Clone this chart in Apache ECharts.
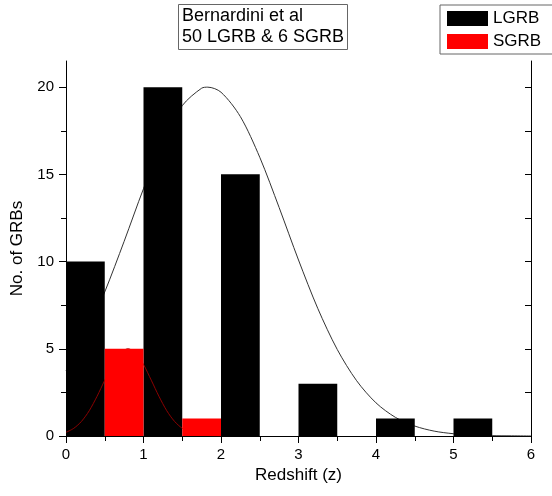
<!DOCTYPE html>
<html><head><meta charset="utf-8">
<script src="https://cdn.jsdelivr.net/npm/echarts@6/dist/echarts.min.js"></script>
<style>html,body{margin:0;padding:0;background:#fff}#c{width:552px;height:496px}</style>
</head><body><div id="c"></div>
<script>
// ---- data ----
const binWidth = 0.5;
const lgrbStart = [0, 1, 2, 3, 4, 5];
const lgrbCount = [10, 20, 15, 3, 1, 1];
const sgrbStart = [0.5, 1.5];
const sgrbCount = [5, 1];
const lgrbFitX = [0, 0.25, 0.5, 0.75, 1.0, 1.25, 1.5, 1.75, 1.83, 2.0, 2.25, 2.5, 2.75, 3.0, 3.25, 3.5, 3.75, 4.0, 4.25, 4.5, 4.75, 5.0, 5.25, 5.5, 5.75, 6.0];
const lgrbFitY = [3.75, 5.74, 8.26, 11.16, 14.18, 16.9, 18.94, 19.94, 20.0, 19.71, 18.31, 15.98, 13.10, 10.09, 7.30, 4.96, 3.17, 1.90, 1.07, 0.57, 0.28, 0.13, 0.06, 0.02, 0.01, 0.0];
const sgrbFitX = [0, 0.1, 0.2, 0.3, 0.4, 0.5, 0.6, 0.7, 0.8, 0.9, 1.0, 1.1, 1.2, 1.3, 1.4, 1.5, 1.6, 1.7, 1.8, 1.9, 2.0];
const sgrbFitY = [0.21, 0.44, 0.84, 1.45, 2.27, 3.20, 4.10, 4.76, 5.0, 4.76, 4.10, 3.20, 2.27, 1.45, 0.84, 0.44, 0.21, 0.09, 0.04, 0.01, 0.0];
const xTicks = [0, 1, 2, 3, 4, 5, 6];
const yLabelTicks = [0, 5, 10, 15, 20];
const yMinorTicks = [2.5, 7.5, 12.5, 17.5];
const titleLines = ['Bernardini et al', '50 LGRB & 6 SGRB'];
// --------------------------------------

const FONT = '"Liberation Sans", Arial, sans-serif';
const chart = echarts.init(document.getElementById('c'), null, {renderer: 'canvas'});

function histSeries(name, starts, counts, color, z) {
  return {
    type: 'custom', name: name, xAxisIndex: 0, yAxisIndex: 0, z: z,
    itemStyle: {color: color},
    encode: {x: 0, y: 1},
    data: starts.map((s, i) => [s, counts[i]]),
    renderItem: function (params, api) {
      const x0 = api.value(0), v = api.value(1);
      const p0 = api.coord([x0, v]);
      const p1 = api.coord([x0 + binWidth, 0]);
      return {type: 'rect', shape: {x: p0[0], y: p0[1], width: p1[0] - p0[0], height: p1[1] - p0[1]},
        style: {fill: color}};
    }
  };
}

const axisLine = {show: true, lineStyle: {color: '#000', width: 1}};
const option = {
  animation: false,
  backgroundColor: '#fff',
  textStyle: {fontFamily: FONT},
  title: {
    text: titleLines.join('\n'), left: 178, top: 4,
    borderColor: '#666', borderWidth: 1, padding: [2, 4, 2, 4],
    textStyle: {fontFamily: FONT, fontSize: 18, fontWeight: 'normal', color: '#000', lineHeight: 21}
  },
  legend: {
    orient: 'vertical', left: 440, top: 5,
    data: ['LGRB', 'SGRB'], icon: 'rect', itemWidth: 41, itemHeight: 15, itemGap: 6,
    borderColor: '#666', borderWidth: 1, padding: [5, 20, 4, 7],
    textStyle: {fontFamily: FONT, fontSize: 17, color: '#000'}
  },
  grid: {left: 66, right: 21, top: 61, bottom: 60},
  xAxis: [
    {type: 'value', min: 0, max: 6, interval: 1, position: 'bottom',
     name: 'Redshift (z)', nameLocation: 'middle', nameGap: 25,
     nameTextStyle: {fontFamily: FONT, fontSize: 17, color: '#000'},
     axisLine: axisLine, splitLine: {show: false},
     axisTick: {show: true, inside: false, length: 7, lineStyle: {color: '#000'}},
     minorTick: {show: true, splitNumber: 2, length: 5, lineStyle: {color: '#000'}},
     axisLabel: {fontFamily: FONT, fontSize: 15, color: '#000', margin: 11,
       customValues: xTicks}},
    {type: 'value', min: 0, max: 6, interval: 1, position: 'top',
     axisLine: axisLine, splitLine: {show: false},
     axisTick: {show: true, inside: true, length: 5, lineStyle: {color: '#000'}},
     minorTick: {show: true, splitNumber: 2, length: 5, lineStyle: {color: '#000'}},
     axisLabel: {show: false}}
  ],
  yAxis: [
    {type: 'value', min: 0, max: 21.5, position: 'left',
     name: 'No. of GRBs', nameLocation: 'middle', nameGap: 40, nameRotate: 90,
     nameTextStyle: {fontFamily: FONT, fontSize: 17, color: '#000'},
     axisLine: axisLine, splitLine: {show: false},
     axisTick: {show: true, inside: false, length: 7, customValues: yLabelTicks, lineStyle: {color: '#000'}},
     axisLabel: {fontFamily: FONT, fontSize: 15, color: '#000', margin: 12, customValues: yLabelTicks}},
    {type: 'value', min: 0, max: 21.5, position: 'left',
     axisLine: {show: false}, splitLine: {show: false},
     axisTick: {show: true, inside: false, length: 5, customValues: yMinorTicks, lineStyle: {color: '#000'}},
     axisLabel: {show: false}},
    {type: 'value', min: 0, max: 21.5, position: 'right',
     axisLine: axisLine, splitLine: {show: false},
     axisTick: {show: true, inside: true, length: 6, customValues: yLabelTicks.concat(yMinorTicks), lineStyle: {color: '#000'}},
     axisLabel: {show: false}}
  ],
  series: [
    {type: 'line', name: 'LGRB fit', xAxisIndex: 0, yAxisIndex: 0, z: 1,
     data: lgrbFitX.map((x, i) => [x, lgrbFitY[i]]), showSymbol: false, smooth: 0.3, clip: true,
     lineStyle: {color: '#333', width: 1}},
    histSeries('LGRB', lgrbStart, lgrbCount, '#000000', 2),
    {type: 'line', name: 'SGRB fit', xAxisIndex: 0, yAxisIndex: 0, z: 3,
     data: sgrbFitX.map((x, i) => [x, sgrbFitY[i]]), showSymbol: false, smooth: 0.3, clip: true,
     lineStyle: {color: '#8b0000', width: 1}},
    histSeries('SGRB', sgrbStart, sgrbCount, '#ff0000', 4)
  ]
};
chart.setOption(option);
</script></body></html>
